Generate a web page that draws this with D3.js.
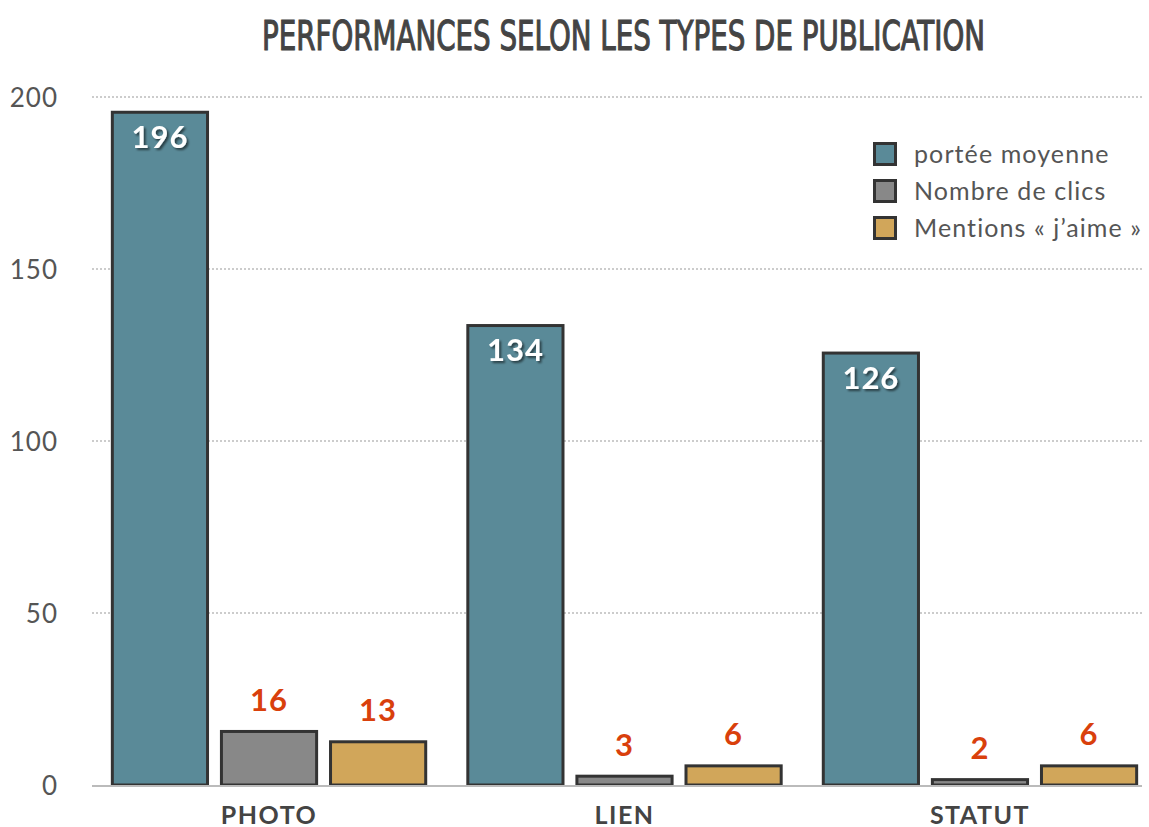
<!DOCTYPE html>
<html><head><meta charset="utf-8">
<script src="https://cdn.jsdelivr.net/npm/d3@7"></script>
<style>body{margin:0;background:#fff}</style>
</head><body>
<svg id="c" width="1149" height="827"></svg>
<script>
const categories = ["PHOTO", "LIEN", "STATUT"];
const seriesNames = ["portée moyenne", "Nombre de clics", "Mentions « j’aime »"];
const porteeMoyenne = [196, 134, 126];
const nombreClics = [16, 3, 2];
const mentionsJaime = [13, 6, 6];
const yTicks = [0, 50, 100, 150, 200];
const title = "PERFORMANCES SELON LES TYPES DE PUBLICATION";

const seriesValues = [porteeMoyenne, nombreClics, mentionsJaime];
const colors = ["#5a8a98", "#888888", "#d1a65a"];

const svg = d3.select("#c");
const defs = svg.append("defs");
const f = defs.append("filter").attr("id","sh").attr("x","-20%").attr("y","-20%").attr("width","140%").attr("height","140%");
f.append("feDropShadow").attr("dx",2).attr("dy",2).attr("stdDeviation",1.2).attr("flood-color","#000").attr("flood-opacity",0.55);

const x0 = d3.scaleBand().domain(categories).range([92, 1157]).paddingInner(0.11).paddingOuter(0.053);
const x1 = d3.scaleBand().domain(d3.range(3)).range([0, x0.bandwidth()]).paddingInner(0.1).paddingOuter(0);
const y = d3.scaleLinear().domain([0, 200]).range([785, 97]);

// title
svg.append("text").attr("x", 262).attr("y", 50).attr("textLength", 723).attr("lengthAdjust","spacingAndGlyphs")
  .style("font-family","'Liberation Sans Narrow','DejaVu Sans Condensed','Roboto Condensed',sans-serif")
  .style("font-stretch","condensed").style("font-size","40px").style("font-weight","normal")
  .attr("fill","#444").attr("stroke","#444").attr("stroke-width",1.1).text(title);

// y axis
const yAxis = d3.axisLeft(y).tickValues(yTicks).tickSize(0).tickPadding(0);
const ga = svg.append("g").attr("transform","translate(58,0)").call(yAxis);
ga.select(".domain").remove();
ga.selectAll("text").attr("fill","#555").style("font-family","Lato, sans-serif").style("font-size","26px").style("letter-spacing","1px").attr("dy","0.35em");

svg.append("g").selectAll("line").data(yTicks.filter(d=>d>0)).join("line")
  .attr("x1",92).attr("x2",1142).attr("y1",d=>y(d)).attr("y2",d=>y(d))
  .attr("stroke","#999").attr("stroke-width",1).attr("stroke-dasharray","2,2");

// bars
const groups = svg.append("g").selectAll("g").data(categories).join("g")
  .attr("transform", d => `translate(${x0(d)},0)`);

groups.each(function(cat, ci){
  const g = d3.select(this);
  seriesValues.forEach((vals, si) => {
    const v = vals[ci];
    const bx = x1(si), bw = x1.bandwidth();
    g.append("rect").attr("x", bx+1.5).attr("y", y(v)+1.5).attr("width", bw-3).attr("height", Math.max(0, y(0)-y(v)-1.5))
      .attr("fill", colors[si]).attr("stroke","#333").attr("stroke-width",3);
    if (si === 0) {
      g.append("text").attr("x", bx+bw/2).attr("y", y(v)+37).attr("text-anchor","middle")
        .attr("fill","#fff").attr("filter","url(#sh)").style("font-family","Lato, sans-serif")
        .style("font-size","31px").style("font-weight","bold").style("letter-spacing","1px").text(v);
    } else {
      g.append("text").attr("x", bx+bw/2).attr("y", y(v)-19).attr("text-anchor","middle")
        .attr("fill","#d9400c").style("font-family","Lato, sans-serif")
        .style("font-size","31px").style("font-weight","bold").style("letter-spacing","1px").text(v);
    }
  });
});

// baseline
svg.append("line").attr("x1",92).attr("x2",1142).attr("y1",y(0)+1).attr("y2",y(0)+1).attr("stroke","#bbb").attr("stroke-width",2);

// x axis labels
const xAxis = d3.axisBottom(x0).tickSize(0).tickPadding(0);
const gx = svg.append("g").attr("transform",`translate(0,${y(0)})`).call(xAxis);
gx.select(".domain").remove();
gx.selectAll("text").attr("y",39).attr("dy",0).attr("fill","#444").style("font-family","Lato, sans-serif").style("font-size","25px").style("font-weight","bold").style("letter-spacing","1.5px");

// legend
const lg = svg.append("g").attr("transform","translate(873,142)");
seriesNames.forEach((n,i) => {
  const r = lg.append("g").attr("transform",`translate(0,${i*37})`);
  r.append("rect").attr("x",1.5).attr("y",1.5).attr("width",21).attr("height",21).attr("fill",colors[i]).attr("stroke","#333").attr("stroke-width",3);
  r.append("text").attr("x",41).attr("y",21).attr("fill","#555").style("font-family","Lato, sans-serif").style("font-size","25px").style("letter-spacing","1.1px").text(n);
});
</script>
</body></html>
